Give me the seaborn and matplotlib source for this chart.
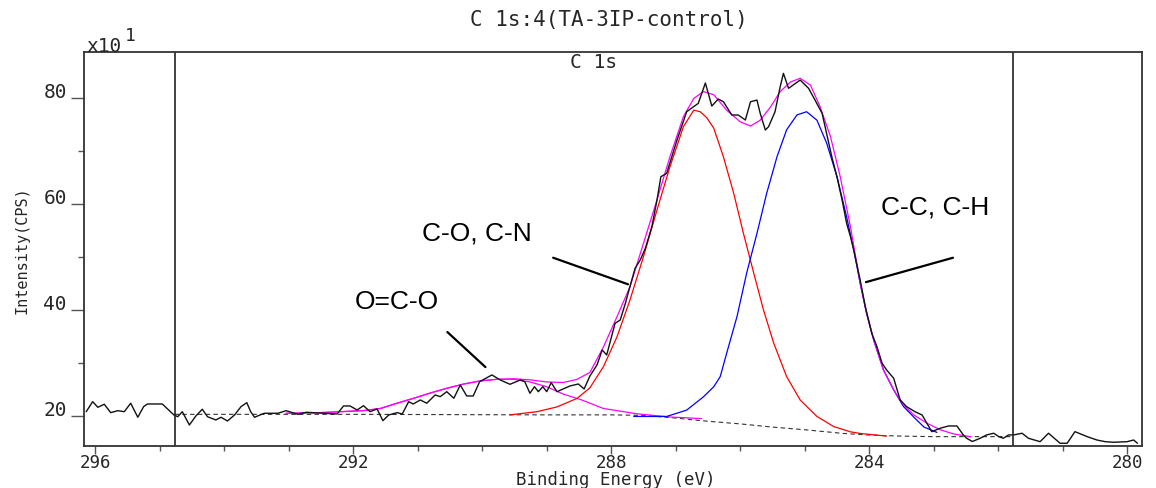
"""C 1s XPS spectrum of TA-3IP-control with fitted components."""

import matplotlib
matplotlib.use("Agg")
import matplotlib.pyplot as plt
import seaborn as sns
from matplotlib.ticker import FixedLocator, MultipleLocator

# measured spectrum (binding energy in eV, counts in units of x10 CPS)
raw_be = [296.14, 296.04, 295.96, 295.86, 295.76, 295.65, 295.55, 295.45, 295.34, 295.25,
          295.19, 294.96, 294.78, 294.72, 294.65, 294.54, 294.44, 294.34, 294.26, 294.13,
          294.05, 293.95, 293.84, 293.74, 293.65, 293.59, 293.53, 293.38, 293.17, 293.04,
          292.86, 292.73, 292.45, 292.25, 292.15, 292.05, 291.94, 291.84, 291.74, 291.63,
          291.54, 291.45, 291.32, 291.24, 291.14, 291.07, 290.96, 290.86, 290.73, 290.65,
          290.55, 290.44, 290.34, 290.24, 290.14, 290.04, 289.85, 289.72, 289.57, 289.41,
          289.34, 289.26, 289.19, 289.13, 289.06, 289.00, 288.93, 288.84, 288.64, 288.51,
          288.42, 288.33, 288.22, 288.14, 288.07, 287.94, 287.86, 287.78, 287.71, 287.63,
          287.55, 287.47, 287.37, 287.29, 287.23, 287.14, 287.06, 286.98, 286.90, 286.83,
          286.65, 286.54, 286.44, 286.34, 286.26, 286.13, 286.03, 285.92, 285.84, 285.74,
          285.69, 285.61, 285.56, 285.46, 285.38, 285.33, 285.25, 285.07, 284.94, 284.84,
          284.73, 284.66, 284.58, 284.50, 284.42, 284.35, 284.29, 284.24, 284.14, 284.06,
          283.96, 283.88, 283.80, 283.73, 283.62, 283.52, 283.42, 283.29, 283.18, 283.03,
          282.90, 282.77, 282.64, 282.54, 282.49, 282.40, 282.28, 282.18, 282.07, 281.99,
          281.92, 281.84, 281.76, 281.63, 281.53, 281.35, 281.22, 281.04, 280.93, 280.81,
          280.62, 280.47, 280.34, 280.21, 280.00, 279.90, 279.84]
raw_cps = [20.90, 22.79, 21.73, 22.30, 20.72, 21.09, 20.90, 22.49, 19.85, 21.85,
           22.35, 22.35, 20.28, 19.96, 20.90, 18.40, 20.09, 21.36, 19.96, 19.34,
           19.85, 19.15, 20.28, 21.85, 22.60, 20.90, 19.85, 20.60, 20.60, 21.09,
           20.41, 20.79, 20.60, 20.47, 21.98, 21.98, 21.22, 22.03, 20.90, 21.41,
           19.21, 20.28, 20.72, 20.47, 22.79, 22.35, 23.11, 22.49, 24.05, 23.73,
           24.67, 23.43, 25.93, 23.86, 23.86, 26.55, 27.82, 26.87, 26.06, 26.87,
           26.55, 24.37, 25.61, 24.67, 25.61, 24.67, 26.37, 24.67, 25.74, 26.12,
           25.18, 27.63, 29.70, 32.52, 31.58, 37.55, 38.17, 41.32, 44.44, 47.91,
           49.47, 51.68, 55.74, 60.77, 65.16, 65.80, 68.93, 72.07, 74.90, 77.40,
           78.98, 82.81, 78.47, 79.79, 79.28, 76.78, 76.78, 75.84, 79.28, 79.60,
           77.10, 73.95, 74.58, 77.40, 82.11, 84.63, 81.81, 83.37, 81.81, 79.60,
           77.10, 73.33, 68.93, 65.16, 60.77, 56.38, 53.86, 51.36, 45.71, 40.68,
           35.67, 33.15, 30.02, 28.76, 27.19, 23.11, 21.85, 20.90, 20.28, 17.14,
           17.78, 18.21, 18.21, 16.52, 15.89, 15.29, 15.89, 16.52, 16.84, 16.20,
           15.89, 16.52, 16.52, 16.84, 15.89, 15.25, 16.84, 14.95, 14.95, 17.14,
           16.20, 15.57, 15.25, 15.14, 15.25, 15.57, 14.95]

# C-O, C-N component (red)
co_be = [289.57, 289.15, 288.84, 288.53, 288.33, 288.12, 287.91, 287.71, 287.50, 287.29,
         287.09, 286.88, 286.72, 286.62, 286.52, 286.41, 286.26, 286.10, 285.95, 285.79,
         285.64, 285.48, 285.28, 285.07, 284.81, 284.55, 284.29, 284.14, 283.73]
co_cps = [20.3, 20.9, 21.8, 23.4, 25.4, 29.4, 35.0, 41.9, 50.1, 58.9,
          67.0, 74.6, 77.7, 77.4, 76.3, 74.3, 68.9, 62.0, 54.5, 47.0,
          40.1, 33.8, 27.5, 23.1, 20.0, 18.1, 17.1, 16.8, 16.3]

# C-C, C-H component (blue)
cc_be = [287.65, 287.14, 286.83, 286.57, 286.41, 286.31, 286.21, 286.05, 285.90, 285.74,
         285.59, 285.43, 285.28, 285.12, 284.97, 284.81, 284.66, 284.50, 284.35, 284.24,
         284.14, 284.04, 283.93, 283.78, 283.62, 283.47, 283.31, 283.15, 282.95]
cc_cps = [20.0, 20.0, 21.2, 23.7, 25.6, 27.5, 31.9, 38.8, 47.0, 54.5,
          62.0, 68.9, 74.0, 76.8, 77.4, 75.8, 71.5, 65.2, 57.6, 51.4,
          45.1, 39.4, 34.4, 28.8, 25.0, 21.9, 19.9, 18.0, 17.0]

# O=C-O component (magenta)
oco_be = [293.04, 292.55, 292.20, 291.84, 291.58, 291.32, 291.07, 290.81, 290.55, 290.29,
          290.03, 289.77, 289.51, 289.26, 289.00, 288.74, 288.48, 288.33, 288.12, 287.60,
          287.09, 286.60]
oco_cps = [20.6, 20.7, 20.9, 21.1, 21.5, 22.5, 23.4, 24.4, 25.3, 26.1,
           26.7, 27.0, 27.0, 26.5, 25.6, 24.2, 23.2, 22.5, 21.5, 20.5,
           19.9, 19.6]

# fitted envelope (magenta)
env_be = [293.04, 292.55, 292.20, 291.84, 291.58, 291.32, 291.07, 290.81, 290.55, 290.29,
          290.03, 289.77, 289.51, 289.26, 289.00, 288.74, 288.53, 288.33, 288.12, 287.91,
          287.71, 287.50, 287.29, 287.09, 286.88, 286.72, 286.57, 286.41, 286.21, 286.00,
          285.84, 285.69, 285.53, 285.38, 285.22, 285.07, 284.91, 284.76, 284.60, 284.45,
          284.29, 284.14, 284.04, 283.93, 283.78, 283.62, 283.47, 283.31, 283.10, 282.90,
          282.69, 282.43]
env_cps = [20.6, 20.7, 20.9, 21.1, 21.5, 22.5, 23.4, 24.4, 25.3, 26.1,
           26.7, 27.0, 27.1, 26.9, 26.5, 26.4, 27.0, 28.3, 33.1, 38.8,
           44.4, 52.6, 60.8, 68.9, 76.5, 79.9, 81.2, 80.6, 77.7, 75.5,
           74.7, 75.8, 78.3, 81.2, 83.0, 83.7, 82.4, 78.3, 72.7, 65.2,
           55.7, 45.1, 39.4, 34.4, 28.8, 25.0, 22.2, 20.3, 18.7, 17.5,
           16.7, 16.2]

# background (dashed)
bg_be = [294.77, 292.0, 289.0, 288.0, 287.5, 287.0, 286.6, 286.0, 285.5, 285.0,
         284.4, 284.0, 283.5, 283.0, 281.77]
bg_cps = [20.4, 20.4, 20.3, 20.3, 20.2, 19.7, 19.2, 18.6, 18.0, 17.5,
          16.8, 16.5, 16.3, 16.2, 16.2]

region_limits = [294.77, 281.77]
x_major = [296, 292, 288, 284, 280]
y_major = [20, 40, 60, 80]

# peak labels: text position and leader line (start, end)
labels = ["O=C-O", "C-O, C-N", "C-C, C-H"]
label_pos = [(291.33, 41.6), (290.09, 54.4), (282.98, 59.3)]
leader_start = [(290.54, 35.9), (288.90, 49.9), (282.70, 49.9)]
leader_end = [(289.95, 29.3), (287.74, 44.9), (284.05, 45.3)]

sns.set_style("white")
plt.rcParams["font.family"] = ["DejaVu Sans Mono"]

fig = plt.figure(figsize=(11.56, 4.88), dpi=100)
ax = fig.add_axes([0.0729, 0.0861, 0.915, 0.8068])

sns.lineplot(x=bg_be, y=bg_cps, sort=False, estimator=None, color="#333333",
             lw=0.8, linestyle=(0, (4, 3)), ax=ax)
sns.lineplot(x=oco_be, y=oco_cps, sort=False, estimator=None, color="#ff00ff", lw=0.9, ax=ax)
sns.lineplot(x=co_be, y=co_cps, sort=False, estimator=None, color="#ff0000", lw=0.9, ax=ax)
sns.lineplot(x=cc_be, y=cc_cps, sort=False, estimator=None, color="#0000ff", lw=0.9, ax=ax)
sns.lineplot(x=env_be, y=env_cps, sort=False, estimator=None, color="#ff00ff", lw=0.9, ax=ax)
sns.lineplot(x=raw_be, y=raw_cps, sort=False, estimator=None, color="#111111", lw=1.0, ax=ax)

for xv in region_limits:
    ax.axvline(xv, color="#222222", lw=1.2)

for text, pos, p0, p1 in zip(labels, label_pos, leader_start, leader_end):
    ax.text(pos[0], pos[1], text, ha="center", va="center", fontsize=19,
            family=["Liberation Sans"], color="black")
    ax.plot([p0[0], p1[0]], [p0[1], p1[1]], color="black", lw=1.6)

ax.set_xlim(296.17, 279.77)
ax.set_ylim(14.44, 88.6)
ax.xaxis.set_major_locator(FixedLocator(x_major))
ax.xaxis.set_minor_locator(MultipleLocator(1))
ax.yaxis.set_major_locator(FixedLocator(y_major))
ax.yaxis.set_minor_locator(MultipleLocator(10))
ax.set_xticklabels([str(v) for v in x_major])
ax.set_yticklabels([str(v) for v in y_major])

ax.tick_params(axis="x", which="major", length=5.5, width=1, color="#555555",
               labelsize=12.5, pad=0, bottom=True)
ax.tick_params(axis="x", which="minor", length=3.5, width=1, color="#555555", bottom=True)
ax.tick_params(axis="y", which="major", length=9.5, width=1, color="#555555",
               labelsize=14, pad=3, left=True)
ax.tick_params(axis="y", which="minor", length=4.5, width=1, color="#555555", left=True)
plt.setp(ax.get_yticklabels(), va="baseline")

for side in ["left", "right", "top", "bottom"]:
    ax.spines[side].set_color("#333333")
    ax.spines[side].set_linewidth(1.3)

ax.set_xlabel("Binding Energy (eV)", fontsize=12.5)
ax.xaxis.set_label_coords(0.502, -0.0855)
ax.xaxis.label.set_va("center")
ax.set_ylabel("Intensity(CPS)", fontsize=11)
ax.yaxis.set_label_coords(-0.059, 0.498)
ax.yaxis.label.set_va("center")

ax.text(0.481, 0.975, "C 1s", transform=ax.transAxes, ha="center", va="center", fontsize=14)
fig.text(0.527, 0.958, "C 1s:4(TA-3IP-control)", ha="center", va="center", fontsize=15)
fig.text(0.075, 0.905, "x10", ha="left", va="center", fontsize=14)
fig.text(0.108, 0.926, "1", ha="left", va="center", fontsize=13)

fig.savefig("out.png", dpi=100)
